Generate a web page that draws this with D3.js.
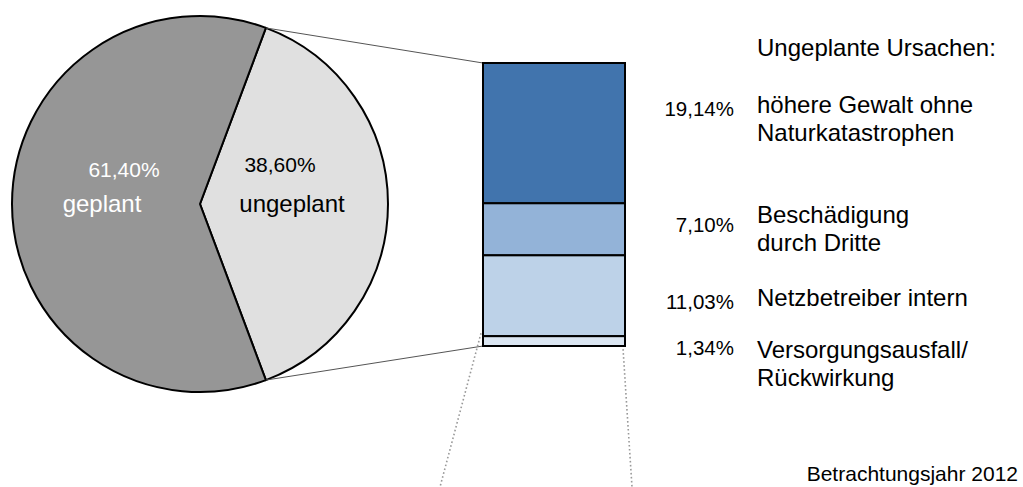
<!DOCTYPE html>
<html>
<head>
<meta charset="utf-8">
<script src="https://cdn.jsdelivr.net/npm/d3@7"></script>
<style>
  body { margin: 0; background: #fff; }
  svg { display: block; font-family: "Liberation Sans", Arial, sans-serif; }
</style>
</head>
<body>
<div id="chart"></div>
<script>
// main split
var mainLabels = ["ungeplant", "geplant"];
var mainValues = [38.60, 61.40];
var mainText = ["38,60%", "61,40%"];

// unplanned causes (top to bottom in the bar)
var causeLabels = [
  ["höhere Gewalt ohne", "Naturkatastrophen"],
  ["Beschädigung", "durch Dritte"],
  ["Netzbetreiber intern"],
  ["Versorgungsausfall/", "Rückwirkung"]
];
var causeValues = [19.14, 7.10, 11.03, 1.34];
var causeText = ["19,14%", "7,10%", "11,03%", "1,34%"];

var title = "Ungeplante Ursachen:";
var footer = "Betrachtungsjahr 2012";

var pieColors = ["#e0e0e0", "#969696"];
var barColors = ["#4174ad", "#93b3d8", "#bdd2e8", "#dbe6f2"];

var W = 1023, H = 487;
var svg = d3.select("#chart").append("svg").attr("width", W).attr("height", H);

/*** Pie ***/
var cx = 200, cy = 204, R = 188;
var frac = mainValues[0] / d3.sum(mainValues);
var start = Math.PI / 2 - frac * Math.PI;

var pie = d3.pie().sort(null).startAngle(start).endAngle(start + 2 * Math.PI);
var arcs = pie(mainValues);
var arc = d3.arc().innerRadius(0).outerRadius(R);

var pieG = svg.append("g").attr("transform", "translate(" + cx + "," + cy + ")");
pieG.selectAll("path")
  .data(arcs)
  .enter()
  .append("path")
  .attr("d", arc)
  .attr("fill", function(d, i) { return pieColors[i]; })
  .attr("stroke", "#000")
  .attr("stroke-width", 2)
  .attr("stroke-linejoin", "miter");

// pie labels
var pieLab = [
  { pct: [280, 172], name: [292, 212], color: "#000" },
  { pct: [124, 177], name: [102, 212], color: "#fff" }
];
mainLabels.forEach(function(lab, i) {
  pieG.append("text")
    .attr("x", pieLab[i].pct[0] - cx).attr("y", pieLab[i].pct[1] - cy)
    .attr("text-anchor", "middle")
    .attr("font-size", 21)
    .attr("fill", pieLab[i].color)
    .text(mainText[i]);
  pieG.append("text")
    .attr("x", pieLab[i].name[0] - cx).attr("y", pieLab[i].name[1] - cy)
    .attr("text-anchor", "middle")
    .attr("font-size", 24)
    .attr("fill", pieLab[i].color)
    .text(lab);
});

/*** Bar ***/
var barX = 483, barW = 142, barTop = 63, barBottom = 346;
var y = d3.scaleLinear().domain([0, d3.sum(causeValues)]).range([barTop, barBottom]);
var cum = [0];
causeValues.forEach(function(v, i) { cum.push(cum[i] + v); });

// connector lines from pie slice edges to bar corners
var a0 = arcs[0].startAngle, a1 = arcs[0].endAngle;
function edge(a) { return [cx + R * Math.sin(a), cy - R * Math.cos(a)]; }
var pTop = edge(a0), pBot = edge(a1);
svg.append("line")
  .attr("x1", pTop[0]).attr("y1", pTop[1]).attr("x2", barX).attr("y2", y(0))
  .attr("stroke", "#555").attr("stroke-width", 1);
svg.append("line")
  .attr("x1", pBot[0]).attr("y1", pBot[1]).attr("x2", barX).attr("y2", y(cum[cum.length - 1]))
  .attr("stroke", "#555").attr("stroke-width", 1);

// dotted leaders running off the bottom
var dotted = [[barX - 2, barX - 43], [barX + barW - 3, barX + barW + 7]];
dotted.forEach(function(d) {
  svg.append("line")
    .attr("x1", d[0]).attr("y1", y(cum[3]) - 3)
    .attr("x2", d[1]).attr("y2", H)
    .attr("stroke", "#999").attr("stroke-width", 1.6)
    .attr("stroke-dasharray", "1.6,2.4");
});

svg.selectAll("rect.seg")
  .data(causeValues)
  .enter()
  .append("rect")
  .attr("class", "seg")
  .attr("x", barX)
  .attr("y", function(d, i) { return y(cum[i]); })
  .attr("width", barW)
  .attr("height", function(d, i) { return y(cum[i + 1]) - y(cum[i]); })
  .attr("fill", function(d, i) { return barColors[i]; })
  .attr("stroke", "#000")
  .attr("stroke-width", 2);

/*** Labels ***/
svg.append("text")
  .attr("x", 757).attr("y", 56)
  .attr("font-size", 24)
  .text(title);

var pctY = [116, 232, 309, 355];
var labY = [113, 223, 306, 358];
var lineH = 28;

svg.selectAll("text.pct")
  .data(causeText)
  .enter()
  .append("text")
  .attr("class", "pct")
  .attr("x", 734)
  .attr("y", function(d, i) { return pctY[i]; })
  .attr("text-anchor", "end")
  .attr("font-size", 20.5)
  .text(function(d) { return d; });

causeLabels.forEach(function(lines, i) {
  var t = svg.append("text")
    .attr("x", 757).attr("y", labY[i])
    .attr("font-size", 24);
  lines.forEach(function(s, j) {
    t.append("tspan").attr("x", 757).attr("dy", j ? lineH : 0).text(s);
  });
});

svg.append("text")
  .attr("x", 1018).attr("y", 481)
  .attr("text-anchor", "end")
  .attr("font-size", 21)
  .text(footer);
</script>
</body>
</html>
